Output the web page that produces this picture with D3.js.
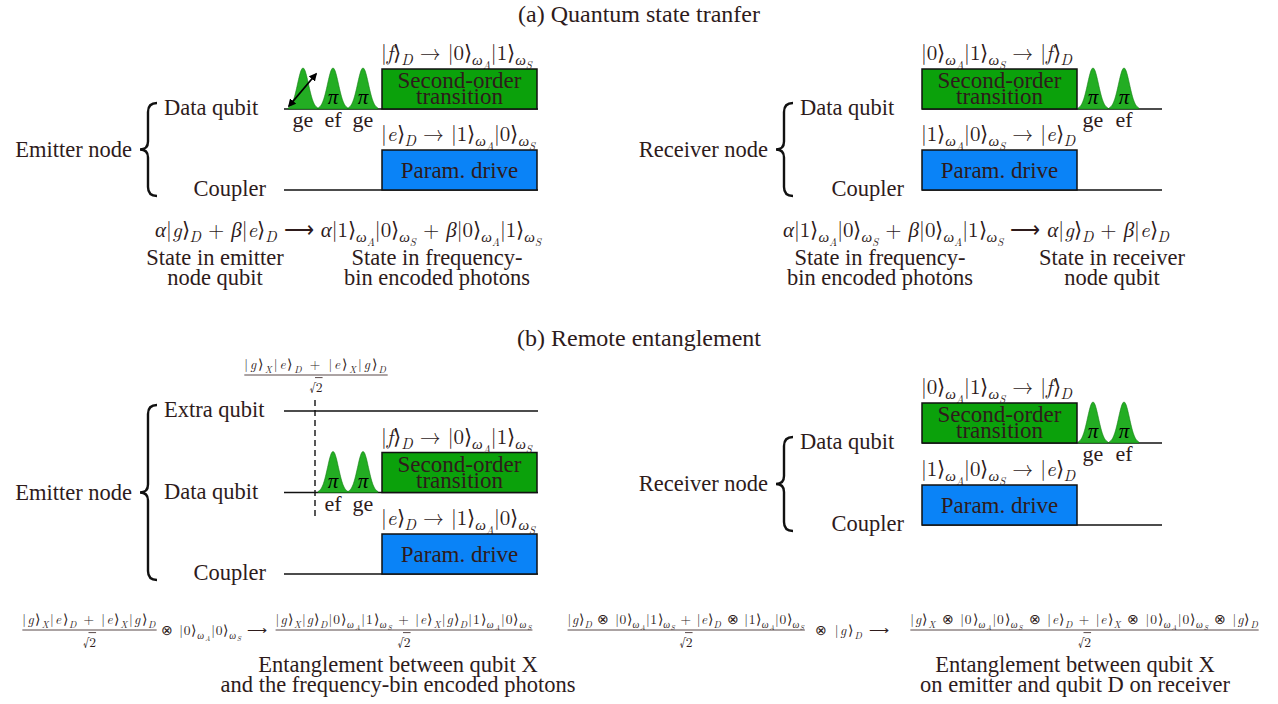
<!DOCTYPE html>
<html>
<head>
<meta charset="utf-8">
<script src="https://cdn.jsdelivr.net/npm/d3@7"></script>
<style>
  body { margin: 0; background: #fff; }
  svg text { fill: #2e1b1b; }
</style>
</head>
<body>
<svg id="fig" width="1278" height="704"></svg>
<script>
// ---- content ----
const sectionTitles = ["(a) Quantum state tranfer", "(b) Remote entanglement"];
const nodeNames = ["Emitter node", "Receiver node"];
const channelsTransfer = ["Data qubit", "Coupler"];
const channelsEntangle = ["Extra qubit", "Data qubit", "Coupler"];
const driveNames = [["Second-order", "transition"], ["Param. drive"]];

// pulse sequences on the time axis: [transition, centre time, marker]
const emitterPulsesTransfer = [["ge", 16, "arrow"], ["ef", 46, "π"], ["ge", 76, "π"]];
const emitterPulsesEntangle = [["ef", 46, "π"], ["ge", 76, "π"]];
const receiverPulses = [["ge", 171, "π"], ["ef", 202, "π"]];
const emitterDrive = [95, 250];
const receiverDrive = [0, 155];
const emitterSpan = [-3, 251];
const receiverSpan = [0, 240];
const bellPrepTime = 28;

const emitterTransitions = ["|f⟩_D → |0⟩_{ω_A}|1⟩_{ω_S}", "|e⟩_D → |1⟩_{ω_A}|0⟩_{ω_S}"];
const receiverTransitions = ["|0⟩_{ω_A}|1⟩_{ω_S} → |f⟩_D", "|1⟩_{ω_A}|0⟩_{ω_S} → |e⟩_D"];

const transferEmitterEq = "α|g⟩_D + β|e⟩_D ⟶ α|1⟩_{ω_A}|0⟩_{ω_S} + β|0⟩_{ω_A}|1⟩_{ω_S}";
const transferReceiverEq = "α|1⟩_{ω_A}|0⟩_{ω_S} + β|0⟩_{ω_A}|1⟩_{ω_S} ⟶ α|g⟩_D + β|e⟩_D";
const transferNotes = [
  ["State in emitter", "node qubit"],
  ["State in frequency-", "bin encoded photons"],
  ["State in frequency-", "bin encoded photons"],
  ["State in receiver", "node qubit"]
];
const bellState = "|g⟩_X|e⟩_D + |e⟩_X|g⟩_D";
const entangleEmitterEq = [
  { frac: bellState },
  { text: "⊗ |0⟩_{ω_A}|0⟩_{ω_S} ⟶" },
  { frac: "|g⟩_X|g⟩_D|0⟩_{ω_A}|1⟩_{ω_S} + |e⟩_X|g⟩_D|1⟩_{ω_A}|0⟩_{ω_S}" }
];
const entangleReceiverEq = [
  { frac: "|g⟩_D ⊗ |0⟩_{ω_A}|1⟩_{ω_S} + |e⟩_D ⊗ |1⟩_{ω_A}|0⟩_{ω_S}" },
  { text: "⊗ |g⟩_D ⟶" },
  { frac: "|g⟩_X ⊗ |0⟩_{ω_A}|0⟩_{ω_S} ⊗ |e⟩_D + |e⟩_X ⊗ |0⟩_{ω_A}|0⟩_{ω_S} ⊗ |g⟩_D" }
];
const entangleNotes = [
  ["Entanglement between qubit X", "and the frequency-bin encoded photons"],
  ["Entanglement between qubit X", "on emitter and qubit D on receiver"]
];

// ---- style ----
const GREEN = "#0ba10b", PULSE = "#23ad23", BLUE = "#0a83f7", INK = "#2e1b1b";
const SERIF = "\"Liberation Serif\", \"Latin Modern Roman\"";
const MATH = "\"Latin Modern Roman\", \"Liberation Serif\"";

const svg = d3.select("#fig");
const defs = svg.append("defs");
defs.append("marker").attr("id", "head").attr("viewBox", "0 0 10 10")
  .attr("refX", 8).attr("refY", 5).attr("markerWidth", 4.5).attr("markerHeight", 4.5)
  .attr("orient", "auto-start-reverse")
  .append("path").attr("d", "M0,0 L10,5 L0,10 z").attr("fill", "#000");

// ---- tiny TeX-like renderer: letters italic, `_x` / `_{...}` subscripts ----
const ITALIC = /[A-Za-zαβωπ]/;
function parseTex(s) {
  const chars = Array.from(s);
  let i = 0;
  function seq(end) {
    const out = []; let buf = "";
    while (i < chars.length) {
      const c = chars[i];
      if (c === end) { i++; break; }
      if (c === "_") {
        if (buf) { out.push(buf); buf = ""; }
        i++;
        let sub;
        if (chars[i] === "{") { i++; sub = seq("}"); } else { sub = [chars[i]]; i++; }
        out.push({ sub });
        continue;
      }
      buf += c; i++;
    }
    if (buf) out.push(buf);
    return out;
  }
  return seq(null);
}
function mathText(parent, x, y, str, size, anchor) {
  const t = parent.append("text").attr("x", x).attr("y", y).style("font-family", MATH)
    .style("white-space", "pre").attr("text-anchor", anchor || "start");
  let pending = 0;
  const emit = (nodes, lvl) => {
    const fs = size * Math.pow(0.72, lvl);
    nodes.forEach(n => {
      if (typeof n === "string") {
        const runs = [];
        for (const ch of n) {
          const it = ITALIC.test(ch);
          if (runs.length && runs[runs.length - 1].it === it) runs[runs.length - 1].s += ch;
          else runs.push({ it, s: ch });
        }
        runs.forEach(r => {
          const sp = t.append("tspan").attr("font-size", fs)
            .style("font-style", r.it ? "italic" : "normal").text(r.s);
          if (pending) { sp.attr("dy", pending); pending = 0; }
        });
      } else {
        const sh = fs * 0.26;
        pending += sh; emit(n.sub, lvl + 1); pending -= sh;
      }
    });
  };
  emit(parseTex(str), 0);
  return t;
}
// math set to a given overall width by spreading the glyphs
function fitMath(parent, x, y, str, size, width, anchor) {
  const t = mathText(parent, x, y, str, size, anchor);
  const w0 = t.node().getBBox().width;
  const n = Array.from(str.replace(/[_{}]/g, "")).length;
  t.attr("letter-spacing", Math.max(0, (width - w0) / n));
  return t;
}
function plainText(parent, x, y, str, size, anchor) {
  return parent.append("text").attr("x", x).attr("y", y).attr("font-size", size)
    .style("font-family", SERIF).attr("text-anchor", anchor || "start").text(str);
}
function sqrt2(parent, cx, y, size) {
  const g = parent.append("g");
  const r = g.append("text").attr("y", y).attr("font-size", size).style("font-family", MATH).text("√");
  const two = g.append("text").attr("y", y).attr("font-size", size).style("font-family", MATH).text("2");
  const wr = r.node().getComputedTextLength(), w2 = two.node().getComputedTextLength();
  const x0 = cx - (wr + w2) / 2;
  r.attr("x", x0); two.attr("x", x0 + wr);
  const top = r.node().getBBox().y;
  g.append("line").attr("x1", x0 + wr - 0.8).attr("x2", x0 + wr + w2)
    .attr("y1", top + 0.6).attr("y2", top + 0.6).attr("stroke", INK).attr("stroke-width", 0.8);
}
function fraction(parent, cx, axisY, num, size, width) {
  const t = fitMath(parent, cx, axisY - 6, num, size, width, "middle");
  const b = t.node().getBBox();
  parent.append("line").attr("x1", b.x).attr("x2", b.x + b.width)
    .attr("y1", axisY).attr("y2", axisY).attr("stroke", INK).attr("stroke-width", 0.8);
  sqrt2(parent, cx, axisY + 17, size);
}
// pieces placed at [start x, width]
function equationRow(parent, axisY, pieces, slots, size) {
  pieces.forEach((p, i) => {
    const [x0, w] = slots[i];
    if (p.frac) fraction(parent, x0 + w / 2, axisY, p.frac, size, w);
    else fitMath(parent, x0, axisY + 5, p.text, size, w);
  });
}
function brace(parent, x, y1, y2) {
  const m = (y1 + y2) / 2, h = 9, w = 8;
  parent.append("path")
    .attr("d", `M${x + h},${y1} Q${x},${y1} ${x},${y1 + h} L${x},${m - w} Q${x},${m} ${x - w},${m}` +
      ` Q${x},${m} ${x},${m + w} L${x},${y2 - h} Q${x},${y2} ${x + h},${y2}`)
    .attr("fill", "none").attr("stroke", "#111").attr("stroke-width", 2.4);
}

// ---- pulse-sequence panel ----
function sequence(cfg) {
  const g = svg.append("g");
  const x = d3.scaleLinear().domain(cfg.span).range(cfg.xRange);
  const y = d3.scalePoint().domain(cfg.channels).range(cfg.yRange);
  const lineStart = x(cfg.span[0]);

  // node brace and labels
  const bx = cfg.braceX;
  const top = y(cfg.channels[0]) - 6, bot = y("Coupler") + 6;
  brace(g, bx, top, bot);
  plainText(g, bx - 16, (top + bot) / 2 + 7, cfg.node, 22.5, "end");
  cfg.channels.forEach(c => {
    if (c === "Coupler") plainText(g, lineStart - 18, y(c) + 6, c, 22.5, "end");
    else plainText(g, bx + 16, y(c) + 6, c, 22.5, "start");
    g.append("line").attr("x1", lineStart).attr("x2", x(cfg.span[1]))
      .attr("y1", y(c)).attr("y2", y(c)).attr("stroke", "#111").attr("stroke-width", 1.6);
  });

  // drives on data qubit and coupler
  const boxH = 40;
  ["Data qubit", "Coupler"].forEach((c, i) => {
    const base = y(c), x0 = x(cfg.drive[0]), x1 = x(cfg.drive[1]);
    g.append("rect").attr("x", x0).attr("y", base - boxH).attr("width", x1 - x0).attr("height", boxH)
      .attr("fill", i ? BLUE : GREEN).attr("stroke", "#111").attr("stroke-width", 1.5);
    const lines = driveNames[i];
    lines.forEach((s, k) => {
      const by = lines.length > 1 ? base - boxH + 19 + 16 * k : base - boxH + 28;
      plainText(g, (x0 + x1) / 2, by, s, 23, "middle");
    });
    mathText(g, x0 - 1, base - boxH - 9, cfg.transitions[i], 21);
  });

  // gaussian pulses on the data qubit
  const base = y("Data qubit");
  const amp = 41, sigma = 5.5;
  const offs = d3.range(-15, 15.01, 0.5);
  const area = d3.area().x(d => d[0]).y0(base).y1(d => d[1]);
  cfg.pulses.forEach(([label, t, mark]) => {
    const pts = offs.map(o => [x(t + o), base - amp * Math.exp(-(o * o) / (2 * sigma * sigma))]);
    g.append("path").attr("d", area(pts)).attr("fill", PULSE).attr("stroke", "#0d7a0d").attr("stroke-width", 0.6);
    if (mark === "arrow") {
      g.append("line").attr("x1", x(t - 14)).attr("y1", base - 3).attr("x2", x(t + 13)).attr("y2", base - 35)
        .attr("stroke", "#000").attr("stroke-width", 1.8)
        .attr("marker-start", "url(#head)").attr("marker-end", "url(#head)");
    } else {
      g.append("text").attr("x", x(t)).attr("y", base - 5).attr("font-size", 21).style("font-family", MATH)
        .style("font-style", "italic").attr("text-anchor", "middle").style("fill", "#000").text(mark);
    }
    plainText(g, x(t), base + 18, label, 22, "middle");
  });

  if (cfg.bellTime != null) {
    g.append("line").attr("x1", x(cfg.bellTime)).attr("x2", x(cfg.bellTime))
      .attr("y1", 400).attr("y2", 518).attr("stroke", "#111").attr("stroke-width", 1.4)
      .attr("stroke-dasharray", "6,4");
    fraction(g, x(cfg.bellTime) + 1, 375, bellState, 13.5, 144);
  }
}

// ---- titles ----
plainText(svg, 639, 22, sectionTitles[0], 24, "middle");
plainText(svg, 639, 346, sectionTitles[1], 24, "middle");

// ---- (a) quantum state transfer ----
sequence({ node: nodeNames[0], channels: channelsTransfer, span: emitterSpan, xRange: [284, 538],
  yRange: [109, 190], braceX: 148, drive: emitterDrive, pulses: emitterPulsesTransfer,
  transitions: emitterTransitions });
sequence({ node: nodeNames[1], channels: channelsTransfer, span: receiverSpan, xRange: [922, 1162],
  yRange: [109, 190], braceX: 784, drive: receiverDrive, pulses: receiverPulses,
  transitions: receiverTransitions });

mathText(svg, 155, 237, transferEmitterEq, 21);
mathText(svg, 783, 237, transferReceiverEq, 21);
const noteX = [215, 437, 880, 1112];
transferNotes.forEach((lines, i) => {
  lines.forEach((s, k) => plainText(svg, noteX[i], 265 + 20 * k, s, 22.5, "middle"));
});

// ---- (b) remote entanglement ----
sequence({ node: nodeNames[0], channels: channelsEntangle, span: emitterSpan, xRange: [284, 538],
  yRange: [411, 574], braceX: 148, drive: emitterDrive, pulses: emitterPulsesEntangle,
  transitions: emitterTransitions, bellTime: bellPrepTime });
sequence({ node: nodeNames[1], channels: channelsTransfer, span: receiverSpan, xRange: [922, 1162],
  yRange: [443, 525], braceX: 784, drive: receiverDrive, pulses: receiverPulses,
  transitions: receiverTransitions });

equationRow(svg, 630, entangleEmitterEq, [[22, 135], [161, 107], [275, 258]], 13.5);
equationRow(svg, 630, entangleReceiverEq, [[567, 238], [815, 76], [910, 349]], 13.5);
const entX = [398, 1075];
entangleNotes.forEach((lines, i) => {
  lines.forEach((s, k) => plainText(svg, entX[i], 672 + 20 * k, s, 22.5, "middle"));
});
</script>
</body>
</html>
